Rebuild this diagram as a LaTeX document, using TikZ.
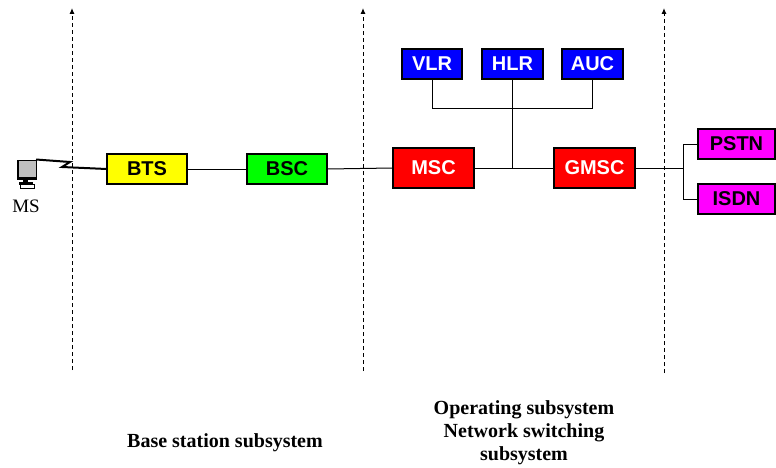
\documentclass[tikz,border=0pt]{standalone}
\usepackage{fontspec}
\setmainfont{Liberation Serif}
\newfontfamily\boxfont{Liberation Sans}
\usetikzlibrary{arrows.meta}
\definecolor{cyel}{RGB}{255,255,0}
\definecolor{cgrn}{RGB}{0,255,0}
\definecolor{cred}{RGB}{255,0,0}
\definecolor{cblu}{RGB}{0,0,255}
\definecolor{cmag}{RGB}{255,0,255}
\begin{document}
\begin{tikzpicture}[x=1pt,y=-1pt,
  box/.style={draw=black,line width=1.1pt,inner sep=0pt,
    font=\boxfont\bfseries\fontsize{20}{22}\selectfont},
  conn/.style={draw=black,line width=1pt},
  sepline/.style={draw=black,line width=1pt,dash pattern=on 4pt off 3pt,
    -{Latex[length=6pt,width=5pt]}},
  caption/.style={font=\bfseries\fontsize{20}{23}\selectfont,align=center}]
\useasboundingbox (0,0) rectangle (776,468);
% separators
\coordinate (s1b) at (72,370);  \coordinate (s1t) at (72,8);
\coordinate (s2b) at (363,371); \coordinate (s2t) at (363,8);
\coordinate (s3b) at (664,373); \coordinate (s3t) at (664,8);
\draw[sepline] (s1b) -- (s1t);
\draw[sepline] (s2b) -- (s2t);
\draw[sepline] (s3b) -- (s3t);
% boxes
\node[box,fill=cyel,text=black,minimum width=80pt,minimum height=30pt] (bts) at (147,169) {BTS};
\node[box,fill=cgrn,text=black,minimum width=80pt,minimum height=30pt] (bsc) at (287,169) {BSC};
\node[box,fill=cred,text=white,minimum width=81pt,minimum height=40pt] (msc) at (433.5,168) {MSC};
\node[box,fill=cred,text=white,minimum width=81pt,minimum height=40pt] (gmsc) at (594.5,168) {GMSC};
\node[box,fill=cblu,text=white,minimum width=60pt,minimum height=30pt] (vlr) at (432,64) {VLR};
\node[box,fill=cblu,text=white,minimum width=61pt,minimum height=30pt] (hlr) at (512.5,64) {HLR};
\node[box,fill=cblu,text=white,minimum width=61pt,minimum height=30pt] (auc) at (592.5,64) {AUC};
\node[box,fill=cmag,text=black,minimum width=77pt,minimum height=30pt] (pstn) at (736.5,144) {PSTN};
\node[box,fill=cmag,text=black,minimum width=77pt,minimum height=30pt] (isdn) at (736.5,199) {ISDN};
% connectors
\draw[conn] (bts.east) -- (bsc.west);
\draw[conn] (bsc.east) -- (msc.west);
\draw[conn] (msc.east) -- (gmsc.west);
\coordinate (jm) at (512.5,168);
\coordinate (bvl) at (432,109);
\coordinate (bhl) at (512.5,109);
\coordinate (bau) at (592.5,109);
\draw[conn] (vlr.south) -- (bvl) -- (bau) -- (auc.south);
\draw[conn] (hlr.south) -- (jm);
\coordinate (br) at (683,168);
\coordinate (bp) at (683,144);
\coordinate (bi) at (683,199);
\draw[conn] (gmsc.east) -- (br);
\draw[conn] (pstn.west) -- (bp) -- (bi) -- (isdn.west);
% mobile station
\fill[black!25] (17,160) rectangle (36,179);
\draw[black,line width=0.8pt] (17,160) rectangle (36,179);
\draw[black,line width=2pt] (18,160) -- (18,178) -- (36,178);
\fill[black] (23,179) rectangle (28,182);
\fill[black] (19,181.5) rectangle (33,184.5);
\draw[black,line width=0.9pt,fill=white] (20,184.5) rectangle (34,188);
\coordinate (msc0) at (36,159.5);
\draw[black,line width=2pt,line join=miter] (msc0) -- (70,162) -- (62,167) -- (bts.west);
\node[font=\fontsize{19}{21}\selectfont] (mslabel) at (26,206) {MS};
% captions
\node[caption] (bss) at (225,443) {Base station subsystem};
\node[caption] (nss) at (524,433) {Operating subsystem\\Network switching\\subsystem};
\end{tikzpicture}
\end{document}
